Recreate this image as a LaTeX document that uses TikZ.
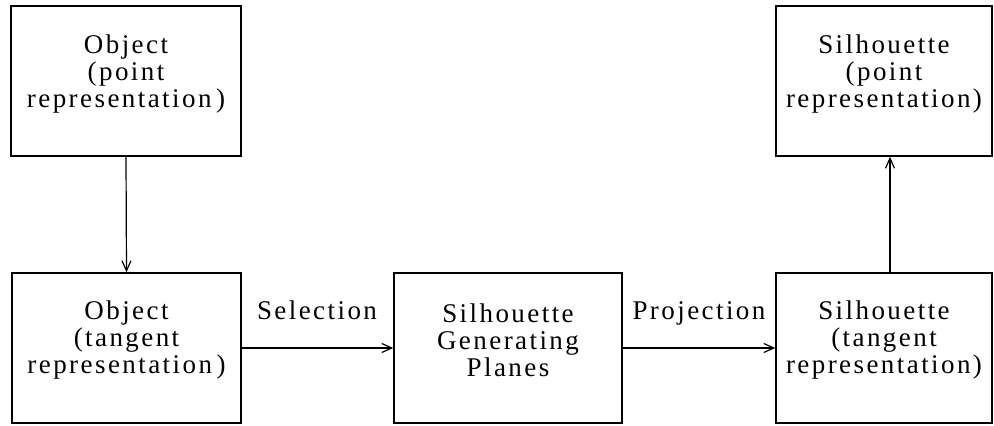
\documentclass[tikz,border=0pt]{standalone}
\usepackage{fontspec}
\setmainfont{Liberation Serif}[LetterSpace=9]
\usetikzlibrary{arrows.meta}
\begin{document}
\begin{tikzpicture}[x=1pt,y=1pt,
  box/.style={draw, line width=1.6pt, inner sep=0pt, minimum height=150pt},
  txt/.style={inner sep=0pt, align=center, font=\fontsize{27}{27}\selectfont},
  lbl/.style={inner sep=0pt, anchor=base, font=\fontsize{27}{27}\selectfont},
  arr/.style={line width=1.2pt, -{Straight Barb[length=10pt,width=9pt,line width=1.2pt]}}]
\useasboundingbox (0,0) rectangle (994,426);
\node[box, minimum width=230pt] (tl) at (126,345) {};
\node[box, minimum width=216pt] (tr) at (884,345) {};
\node[box, minimum width=229pt] (bl) at (126.5,78) {};
\node[box, minimum width=228pt] (mid) at (508,78) {};
\node[box, minimum width=216pt] (br) at (884,78) {};
\node[txt] (tlt) at ([yshift=7pt]tl.center) {Object\\(point\\representation\,)};
\node[txt] (trt) at ([yshift=7pt]tr.center) {Silhouette\\(point\\representation)};
\node[txt] (blt) at ([yshift=8pt]bl.center) {Object\\(tangent\\representation\,)};
\node[txt] (midt) at ([yshift=8pt]mid.center) {Silhouette\\Generating\\Planes};
\node[txt] (brt) at ([yshift=8pt]br.center) {Silhouette\\(tangent\\representation)};
\node[lbl] (sel) at (317,106) {Selection};
\node[lbl] (proj) at (699,106) {Projection};
\draw[arr] (tl.south) -- (bl.north);
\draw[arr] (bl.east) -- (mid.west);
\draw[arr] (mid.east) -- (br.west);
\draw[arr] ([xshift=6pt]br.north) -- ([xshift=6pt]tr.south);
\end{tikzpicture}
\end{document}
